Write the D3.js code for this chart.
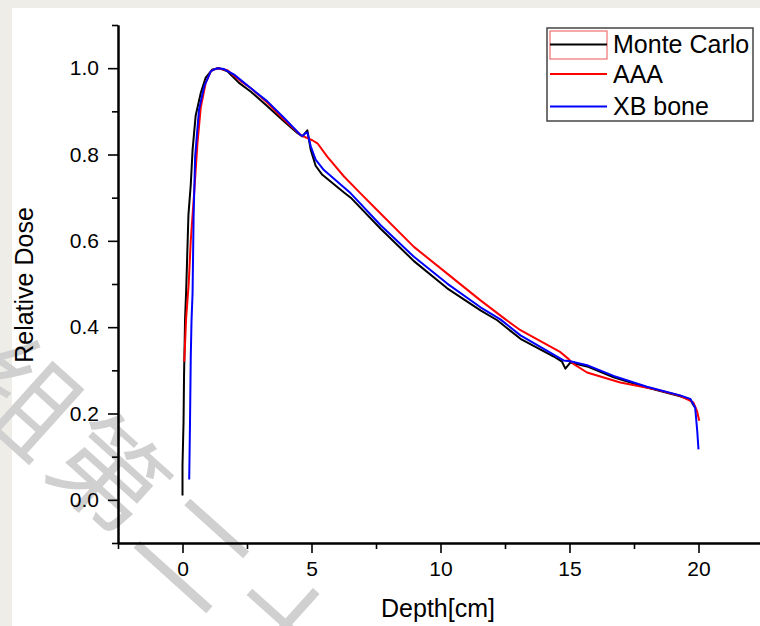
<!DOCTYPE html>
<html><head><meta charset="utf-8">
<script src="https://cdn.jsdelivr.net/npm/d3@7"></script>
<style>body{margin:0;background:#fff;overflow:hidden}</style>
</head><body><svg id="c" width="760" height="626"></svg>
<script>
// ---- data ----
const mcDepth = [0.00,0.00,0.04,0.06,0.10,0.14,0.23,0.32,0.39,0.51,0.71,0.90,1.16,1.42,1.74,2.19,2.64,3.29,3.93,4.45,4.65,4.84,4.97,5.16,5.42,6.26,6.52,7.68,8.97,10.26,11.55,12.20,13.10,14.39,14.71,14.84,15.03,15.68,16.71,18.00,19.29,19.68,19.85];
const mcDose  = [0.010,0.080,0.180,0.290,0.420,0.480,0.660,0.730,0.810,0.890,0.943,0.978,0.997,1.000,0.993,0.966,0.946,0.912,0.877,0.850,0.842,0.856,0.811,0.774,0.753,0.712,0.700,0.628,0.553,0.490,0.439,0.416,0.373,0.332,0.320,0.304,0.318,0.309,0.284,0.260,0.240,0.232,0.215];

const aaaDepth = [0.07,0.14,0.24,0.32,0.45,0.58,0.71,0.90,1.10,1.35,1.74,2.26,2.64,3.29,3.93,4.58,5.03,5.23,5.61,6.26,6.90,7.55,8.97,10.26,11.55,12.52,13.10,14.65,14.97,15.15,15.68,16.97,18.26,19.29,19.80,19.94,20.03];
const aaaDose  = [0.320,0.420,0.500,0.600,0.710,0.826,0.910,0.966,0.993,1.000,0.995,0.970,0.954,0.920,0.881,0.845,0.833,0.826,0.795,0.749,0.710,0.671,0.586,0.524,0.462,0.418,0.393,0.342,0.326,0.315,0.295,0.272,0.257,0.241,0.226,0.206,0.183];

const xbDepth = [0.26,0.29,0.32,0.35,0.39,0.43,0.49,0.64,0.84,1.10,1.35,1.61,2.00,2.64,3.29,3.93,4.58,4.65,4.77,4.84,4.97,5.16,5.48,6.52,7.68,8.97,10.26,11.55,12.32,13.10,14.77,15.03,15.68,16.71,18.00,19.29,19.68,19.87,19.95,20.00];
const xbDose  = [0.047,0.175,0.330,0.416,0.478,0.656,0.795,0.904,0.958,0.993,1.000,0.998,0.985,0.954,0.923,0.885,0.845,0.843,0.850,0.851,0.819,0.788,0.764,0.710,0.636,0.563,0.501,0.446,0.418,0.381,0.323,0.321,0.312,0.287,0.262,0.242,0.234,0.214,0.160,0.117];

const seriesNames  = ["Monte Carlo","AAA","XB bone"];
const seriesColors = ["#000000","#ff0000","#0000ff"];
const xMajorTicks = [0,5,10,15,20];
const xMinorTicks = [-2.5,2.5,7.5,12.5,17.5,22.5];
const yMajorTicks = [0.0,0.2,0.4,0.6,0.8,1.0];
const yMinorTicks = [-0.1,0.1,0.3,0.5,0.7,0.9,1.1];
const xTitle = "Depth[cm]";
const yTitle = "Relative Dose";
const watermarkText = "组第二十";

// ---- drawing ----
const FONT = "'Liberation Sans', Arial, sans-serif";
const svg = d3.select("#c");
svg.append("rect").attr("width",760).attr("height",626).attr("fill","#eeede7");
svg.append("rect").attr("x",12).attr("y",8).attr("width",748).attr("height",618).attr("fill","#ffffff");

// faint watermark
svg.append("text")
  .attr("transform","translate(-45,390) rotate(42)")
  .attr("font-family","'Noto Sans CJK SC', sans-serif")
  .attr("font-size",110)
  .attr("letter-spacing",6)
  .attr("fill","#d0d0d0")
  .text(watermarkText);

const x = d3.scaleLinear().domain([-2.5,22.5]).range([118,763]);
const y = d3.scaleLinear().domain([-0.1,1.1]).range([543,25]);

function styleAxis(g){
  g.select(".domain").attr("stroke","#000").attr("stroke-width",2);
  g.selectAll(".tick line").attr("stroke","#000").attr("stroke-width",1.6);
}
// x axis
const gx = svg.append("g").attr("transform","translate(0,543)")
  .call(d3.axisBottom(x).tickValues(xMajorTicks).tickSize(10).tickSizeOuter(0).tickPadding(8).tickFormat(d3.format("d")));
gx.call(styleAxis);
gx.selectAll("text").attr("font-family",FONT).attr("font-size",21).attr("fill","#000");
const gxm = svg.append("g").attr("transform","translate(0,543)")
  .call(d3.axisBottom(x).tickValues(xMinorTicks).tickSize(6).tickSizeOuter(0).tickFormat(""));
gxm.call(styleAxis);

// y axis
const gy = svg.append("g").attr("transform","translate(118,0)")
  .call(d3.axisLeft(y).tickValues(yMajorTicks).tickSize(10).tickSizeOuter(0).tickPadding(9).tickFormat(d3.format(".1f")));
gy.call(styleAxis);
gy.selectAll("text").attr("font-family",FONT).attr("font-size",21).attr("fill","#000");
const gym = svg.append("g").attr("transform","translate(118,0)")
  .call(d3.axisLeft(y).tickValues(yMinorTicks).tickSize(6).tickSizeOuter(0).tickFormat(""));
gym.call(styleAxis);

// axis titles
svg.append("text").attr("x",438).attr("y",617).attr("text-anchor","middle")
  .attr("font-family",FONT).attr("font-size",25).attr("fill","#000").text(xTitle);
svg.append("text").attr("transform","translate(33,285) rotate(-90)").attr("text-anchor","middle")
  .attr("font-family",FONT).attr("font-size",25).attr("fill","#000").text(yTitle);

// series
const series = [
  {depth: mcDepth, dose: mcDose},
  {depth: aaaDepth, dose: aaaDose},
  {depth: xbDepth, dose: xbDose}
];
const line = d3.line().x(d=>x(d[0])).y(d=>y(d[1]));
series.forEach((s,i)=>{
  const pts = s.depth.map((d,j)=>[d, s.dose[j]]);
  svg.append("path").datum(pts).attr("d",line)
    .attr("fill","none").attr("stroke",seriesColors[i]).attr("stroke-width",2)
    .attr("stroke-linejoin","round");
});

// legend
const lg = svg.append("g");
lg.append("rect").attr("x",547).attr("y",28).attr("width",206).attr("height",93)
  .attr("fill","#fff").attr("stroke","#444").attr("stroke-width",1.5);
const rowY = [44.5,74,106.5];
lg.append("rect").attr("x",550).attr("y",31).attr("width",57).attr("height",28)
  .attr("fill","none").attr("stroke","#f07070").attr("stroke-width",1.2);
seriesNames.forEach((n,i)=>{
  lg.append("line").attr("x1",550).attr("x2",607).attr("y1",rowY[i]).attr("y2",rowY[i])
    .attr("stroke",seriesColors[i]).attr("stroke-width",2);
  lg.append("text").attr("x",613).attr("y",rowY[i]+8.5)
    .attr("font-family",FONT).attr("font-size",25).attr("fill","#000").text(n);
});
</script></body></html>
